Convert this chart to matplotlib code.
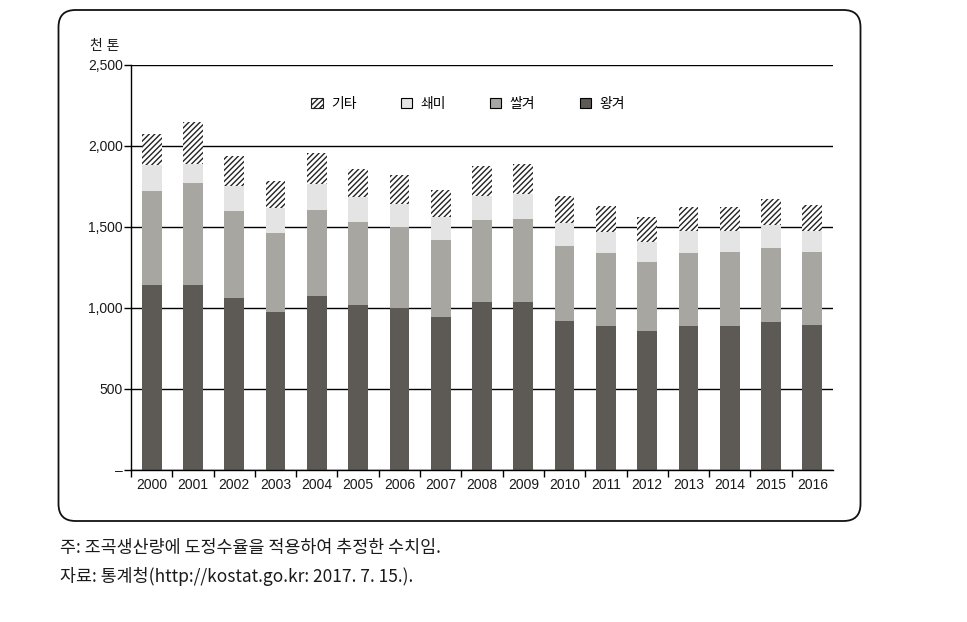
import matplotlib
matplotlib.use('Agg')
from matplotlib import pyplot as plt
from matplotlib.patches import FancyBboxPatch, Patch
import numpy as np

plt.rcParams['font.family'] = ['Liberation Sans', 'Noto Sans CJK KR', 'DejaVu Sans']
plt.rcParams['hatch.linewidth'] = 1.0

years = ['2000', '2001', '2002', '2003', '2004', '2005', '2006', '2007', '2008',
         '2009', '2010', '2011', '2012', '2013', '2014', '2015', '2016']
# 천 톤
wanggyeo = [1142, 1142, 1062, 975, 1074, 1018, 1000, 946, 1039,
            1039, 922, 891, 860, 891, 891, 915, 897]
ssalgyeo = [580, 631, 537, 490, 531, 515, 502, 476, 506,
            512, 463, 450, 426, 450, 456, 457, 450]
swaemi = [161, 113, 156, 150, 159, 152, 140, 140, 148,
          154, 139, 126, 123, 136, 130, 138, 130]
gita = [191, 262, 183, 169, 193, 173, 179, 164, 183,
        182, 167, 163, 153, 148, 148, 163, 157]

labels = ['기타', '쇄미', '쌀겨', '왕겨']
colors = ['white', '#e4e4e4', '#a7a6a1', '#5d5a56']
hatch = '//////'

fig = plt.figure(figsize=(9.67, 6.22), dpi=100)

# rounded frame round the chart
frame = FancyBboxPatch((0.585, 1.01), 8.02, 5.11, boxstyle='round,pad=0,rounding_size=0.17',
                       transform=fig.dpi_scale_trans, facecolor='none',
                       edgecolor='#111111', linewidth=1.3)
fig.patches.append(frame)

ax = fig.add_axes([0.1355, 0.2444, 0.7259, 0.6511])
x = np.arange(len(years))
width = 0.48

ax.set_axisbelow(True)
ax.yaxis.grid(True, color='black', linewidth=1.0)

b1 = np.array(wanggyeo)
b2 = b1 + np.array(ssalgyeo)
b3 = b2 + np.array(swaemi)
ax.bar(x, wanggyeo, width, color=colors[3], linewidth=0)
ax.bar(x, ssalgyeo, width, bottom=b1, color=colors[2], linewidth=0)
ax.bar(x, swaemi, width, bottom=b2, color=colors[1], linewidth=0)
ax.bar(x, gita, width, bottom=b3, color='white', edgecolor='#222222',
       hatch=hatch, linewidth=0)

ax.set_xlim(-0.5, len(years) - 0.5)
ax.set_ylim(0, 2500)
ax.set_yticks(np.arange(0, 2501, 500))
ax.set_yticklabels(['–'] + ['{:,}'.format(v) for v in range(500, 2501, 500)])
ax.set_xticks(x)
ax.set_xticklabels(years)
ax.set_xticks(np.arange(-0.5, len(years) - 1, 1), minor=True)
ax.tick_params(axis='x', which='major', length=0, labelsize=10, pad=6, labelcolor='#1a1a1a')
ax.tick_params(axis='x', which='minor', length=5, width=1, direction='out')
ax.tick_params(axis='y', length=5, width=1, labelsize=10, pad=1, labelcolor='#1a1a1a')

for s in ['top', 'right']:
    ax.spines[s].set_visible(False)
ax.spines['left'].set_linewidth(1)
ax.spines['bottom'].set_linewidth(1)

ax.text(-0.016, 1.03, '천 톤', transform=ax.transAxes, ha='right', va='bottom',
        fontsize=10, color='#1a1a1a')

handles = [Patch(facecolor='white', edgecolor='#222222', hatch=hatch, linewidth=0.8),
           Patch(facecolor=colors[1], edgecolor='black', linewidth=0.8),
           Patch(facecolor=colors[2], edgecolor='black', linewidth=0.8),
           Patch(facecolor=colors[3], edgecolor='black', linewidth=0.8)]
ax.legend(handles, labels, loc='center', bbox_to_anchor=(0.48, 0.904), ncol=4,
          frameon=False, fontsize=10, handlelength=0.8, handleheight=0.8,
          handletextpad=0.6, columnspacing=3.2)

note_font = ['Noto Sans CJK KR', 'DejaVu Sans']
fig.text(0.062, 0.119, '주: 조곡생산량에 도정수율을 적용하여 추정한 수치임.',
         fontsize=12.5, va='center', family=note_font, color='#1a1a1a')
fig.text(0.062, 0.073, '자료: 통계청(http://kostat.go.kr: 2017. 7. 15.).',
         fontsize=12.5, va='center', family=note_font, color='#1a1a1a')

fig.savefig('out.png', dpi=100)
